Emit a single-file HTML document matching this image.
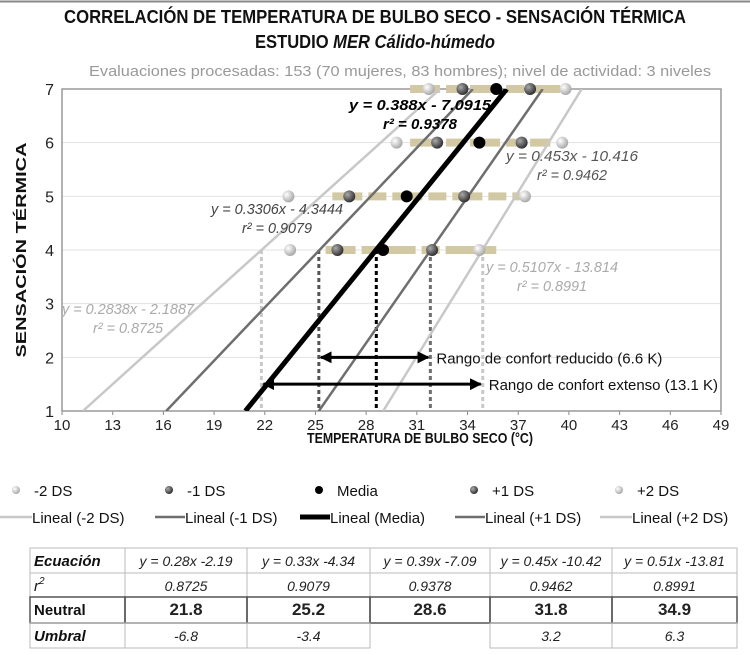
<!DOCTYPE html>
<html><head><meta charset="utf-8"><style>
body{margin:0;background:#fff;}
svg{display:block;font-family:"Liberation Sans Narrow","Liberation Sans",sans-serif;}
</style></head><body>
<svg id="chart" width="750" height="655" viewBox="0 0 750 655" xmlns="http://www.w3.org/2000/svg">
<line x1="0" y1="1.5" x2="750" y2="1.5" stroke="#888" stroke-width="2"/>
<text x="375" y="23" text-anchor="middle" font-size="18" font-weight="bold" fill="#111" textLength="622" lengthAdjust="spacingAndGlyphs">CORRELACIÓN DE TEMPERATURA DE BULBO SECO - SENSACIÓN TÉRMICA</text>
<text x="375" y="48" text-anchor="middle" font-size="18" font-weight="bold" fill="#111" textLength="240" lengthAdjust="spacingAndGlyphs">ESTUDIO <tspan font-style="italic">MER Cálido-húmedo</tspan></text>
<text x="400" y="76" text-anchor="middle" font-size="15" fill="#999" textLength="622" lengthAdjust="spacingAndGlyphs">Evaluaciones procesadas: 153 (70 mujeres, 83 hombres); nivel de actividad: 3 niveles</text>
<g id="plot"></g>
<text transform="translate(26,250) rotate(-90)" text-anchor="middle" font-size="15" font-weight="bold" fill="#111" textLength="215" lengthAdjust="spacingAndGlyphs">SENSACIÓN TÉRMICA</text>
<text x="420" y="443" text-anchor="middle" font-size="15" font-weight="bold" fill="#111" textLength="226" lengthAdjust="spacingAndGlyphs">TEMPERATURA DE BULBO SECO  (°C)</text>
<g id="legend"></g>
<g id="table"></g>
</svg>
<script>
const NS="http://www.w3.org/2000/svg";
const seriesNames=["-2 DS","-1 DS","Media","+1 DS","+2 DS"];
const slopes=[0.2838,0.3306,0.388,0.453,0.5107];
const intercepts=[-2.1887,-4.3444,-7.0915,-10.416,-13.814];
const sensLevels=[4,5,6,7];
const ptsM2=[23.5,23.4,29.8,31.7];
const ptsM1=[26.3,27.0,32.2,33.7];
const ptsMed=[29.0,30.4,34.7,35.7];
const ptsP1=[31.9,33.8,37.2,37.7];
const ptsP2=[34.7,37.4,39.6,39.8];
const bandStart=[25.6,26.0,30.6,30.6];
const bandEnd=[35.7,37.1,38.9,39.5];
const neutral=[21.8,25.2,28.6,31.8,34.9];
const xTicks=[10,13,16,19,22,25,28,31,34,37,40,43,46,49];
const yTicks=[1,2,3,4,5,6,7];
const eqLabels=["y = 0.2838x - 2.1887","y = 0.3306x - 4.3444","y = 0.388x - 7.0915","y = 0.453x - 10.416","y = 0.5107x - 13.814"];
const r2Labels=["r² = 0.8725","r² = 0.9079","r² = 0.9378","r² = 0.9462","r² = 0.8991"];
const tEq=["y = 0.28x -2.19","y = 0.33x -4.34","y = 0.39x -7.09","y = 0.45x -10.42","y = 0.51x -13.81"];
const tR2=["0.8725","0.9079","0.9378","0.9462","0.8991"];
const tNeutral=["21.8","25.2","28.6","31.8","34.9"];
const tUmbral=["-6.8","-3.4","","3.2","6.3"];

const X0=62,X1=721,Y0=411,Y1=89,xmin=10,xmax=49,ymin=1,ymax=7;
const sx=v=>X0+(v-xmin)/(xmax-xmin)*(X1-X0);
const sy=v=>Y0-(v-ymin)/(ymax-ymin)*(Y0-Y1);
const colors=["#c8c8c8","#6e6e6e","#000","#6e6e6e","#c8c8c8"];
const widths=[2.5,2.5,5,2.5,2.5];
function el(tag,attrs,parent){const e=document.createElementNS(NS,tag);for(const k in attrs)e.setAttribute(k,attrs[k]);parent.appendChild(e);return e;}
const plot=document.getElementById('plot');
const defs=el('defs',{},plot);
const cp=el('clipPath',{id:'clip'},defs);el('rect',{x:X0,y:Y1,width:X1-X0,height:Y0-Y1},cp);
const mk=el('marker',{id:'arr',viewBox:'0 0 10 10',refX:'9',refY:'5',markerWidth:'4',markerHeight:'4',orient:'auto-start-reverse'},defs);
el('path',{d:'M0,0 L10,5 L0,10 z',fill:'#000'},mk);
const rg=el('radialGradient',{id:'gl',cx:'35%',cy:'35%',r:'65%'},defs);
el('stop',{offset:'0','stop-color':'#fff'},rg);el('stop',{offset:'1','stop-color':'#aaa'},rg);
const rg2=el('radialGradient',{id:'gd',cx:'35%',cy:'35%',r:'65%'},defs);
el('stop',{offset:'0','stop-color':'#aaa'},rg2);el('stop',{offset:'1','stop-color':'#333'},rg2);
const fills=["url(#gl)","url(#gd)","#000","url(#gd)","url(#gl)"];

yTicks.forEach(t=>{
  const g=el('line',{x1:X0,x2:X1,y1:sy(t),y2:sy(t),stroke:'#e2e2e2','stroke-width':1},plot);
  
  
  const l=el('text',{x:X0-8,y:sy(t)+6,'text-anchor':'end','font-size':16,fill:'#222'},plot);
  l.textContent=t;
  
  
});
xTicks.forEach(t=>{
  const l=el('text',{x:sx(t),y:Y0+19,'text-anchor':'middle','font-size':15,fill:'#222'},plot);
  l.textContent=t;
  
  
  el('line',{x1:sx(t),x2:sx(t),y1:Y0,y2:Y0+4,stroke:'#888'},plot);
});
const fr=el('rect',{x:X0,y:Y1,width:X1-X0,height:Y0-Y1,fill:'none',stroke:'#999','stroke-width':1.5},plot);



sensLevels.forEach((lv,i)=>{
  const b=el('line',{x1:sx(bandStart[i]),x2:sx(bandEnd[i]),y1:sy(lv),y2:sy(lv),stroke:'#d2c9a4','stroke-width':8,'stroke-dasharray':'30 6 18 6'},plot);
  
  
});
const vcol=["#c8c8c8","#555","#000","#6e6e6e","#c8c8c8"];
neutral.forEach((n,i)=>{
  const v=el('line',{x1:sx(n),x2:sx(n),y1:sy(4),y2:sy(1),stroke:vcol[i],'stroke-width':3,'stroke-dasharray':'4 3'},plot);
  
  
});
const tl=el('g',{'clip-path':'url(#clip)'},plot);
slopes.forEach((a,i)=>{
  const b=intercepts[i];
  const l=el('line',{x1:sx((ymin-b)/a),y1:sy(ymin),x2:sx((ymax-b)/a),y2:sy(ymax),stroke:colors[i],'stroke-width':widths[i]},tl);
  
  
});
[ptsM2,ptsM1,ptsMed,ptsP1,ptsP2].forEach((arr,si)=>{
  arr.forEach((x,i)=>{
    const c=el('circle',{cx:sx(x),cy:sy(sensLevels[i]),r:6,fill:fills[si]},plot);
    
    
  });
});
function arrow(x1,x2,y,label,name){
  const a=el('line',{x1:sx(x1)+2,x2:sx(x2)-2,y1:sy(y),y2:sy(y),stroke:'#000','stroke-width':3,'marker-start':'url(#arr)','marker-end':'url(#arr)'},plot);
  
  
  const t=el('text',{x:sx(x2)+6,y:sy(y)+6,'font-size':15,fill:'#111'},plot);
  t.textContent=label;
  
  
}
arrow(neutral[1],neutral[3],2,"Rango de confort reducido (6.6 K)","reduced-range-arrow");
arrow(neutral[0],neutral[4],1.5,"Rango de confort extenso (13.1 K)","extended-range-arrow");
const eqPos=[[128,314,"#aaa"],[277,214,"#444"],[420,110,"#000"],[572,161,"#555"],[552,272,"#aaa"]];
eqLabels.forEach((s,i)=>{
  const [x,y,c]=eqPos[i];
  const t=el('text',{x:x,y:y,'text-anchor':'middle','font-size':15,'font-style':'italic',fill:c,'font-weight':i==2?'bold':'normal',textLength:i==2?142:132,lengthAdjust:'spacingAndGlyphs'},plot);
  t.textContent=s;
  
  
  const r=el('text',{x:x,y:y+19,'text-anchor':'middle','font-size':15,'font-style':'italic',fill:c,'font-weight':i==2?'bold':'normal',textLength:i==2?74:70,lengthAdjust:'spacingAndGlyphs'},plot);
  r.textContent=r2Labels[i];
  
  
});
const lg=document.getElementById('legend');
const lx=[12,165,315,470,615];
seriesNames.forEach((n,i)=>{
  const c=el('circle',{cx:lx[i]+4,cy:490,r:4,fill:fills[i]},lg);
  
  
  const t=el('text',{x:lx[i]+22,y:496,'font-size':15,fill:'#111'},lg);
  t.textContent=n;
  
  
});
const lx2=[0,155,300,455,600];
seriesNames.forEach((n,i)=>{
  const w=[32,30,30,30,32][i];
  const l=el('line',{x1:lx2[i],x2:lx2[i]+w,y1:517,y2:517,stroke:colors[i],'stroke-width':i==2?5:2.5},lg);
  
  
  const t=el('text',{x:lx2[i]+w,y:523,'font-size':15,fill:'#111'},lg);
  t.textContent="Lineal ("+n+")";
  
  
});
const tb=document.getElementById('table');
const cx=[30,125,247,370,490,612,737];
const ry=[548,573,597,623,648];
const rows=[["Ecuación",tEq,true,false],["r",tR2,true,false],["Neutral",tNeutral,false,true],["Umbral",tUmbral,true,false]];
rows.forEach((r,ri)=>{
  const y0=ry[ri],y1=ry[ri+1];
  for(let c=0;c<6;c++){
    if(ri==3&&c==3)continue;
    const rc=el('rect',{x:cx[c],y:y0,width:cx[c+1]-cx[c],height:y1-y0,fill:'none',stroke:ri==2?'#555':'#bbb','stroke-width':ri==2?1.5:1},tb);
    
    
  }
  const h=el('text',{x:cx[0]+4,y:y0+18,'font-size':15,'font-weight':ri==1?'normal':'bold','font-style':r[2]?'italic':'normal',fill:'#111'},tb);
  h.textContent=r[0];
  if(ri==1){const s=el('tspan',{dy:-7,'font-size':10},h);s.textContent="2";}
  
  
  r[1].forEach((v,c)=>{
    const t=el('text',{x:(cx[c+1]+cx[c+2])/2,y:y0+18,'text-anchor':'middle','font-size':r[3]?17:14,'font-weight':r[3]?'bold':'normal','font-style':r[2]?'italic':'normal',fill:'#222'},tb);
    t.textContent=v;
    
    
  });
});
</script>
</body></html>
